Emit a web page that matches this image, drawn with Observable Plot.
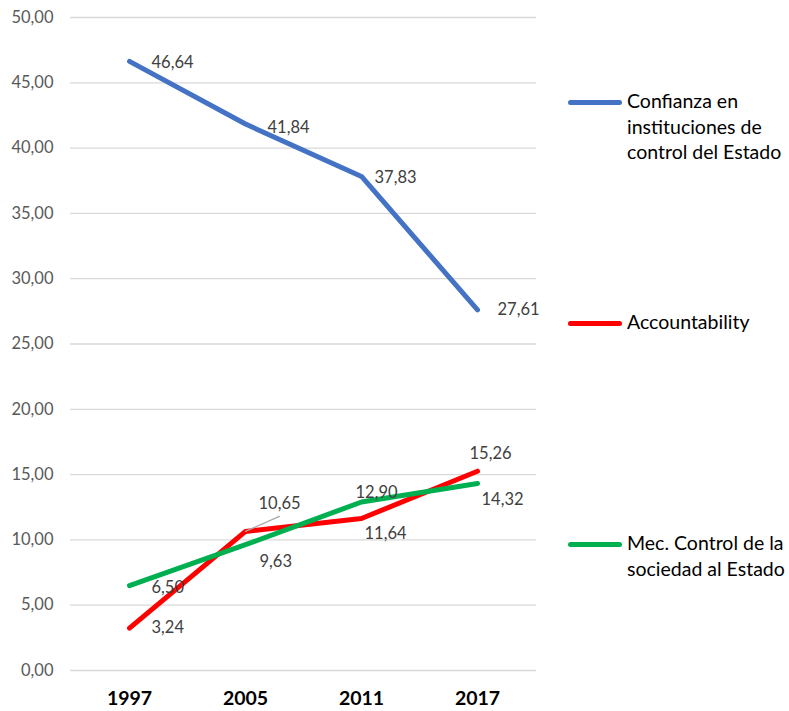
<!DOCTYPE html>
<html>
<head>
<meta charset="utf-8">
<script src="https://cdn.jsdelivr.net/npm/d3@7"></script>
<script src="https://cdn.jsdelivr.net/npm/@observablehq/plot@0.6"></script>
<style>
  body { margin: 0; background: #fff; }
  #wrap { position: relative; width: 789px; height: 711px; font-family: Lato, "Open Sans", sans-serif; }
  .leg { position: absolute; left: 568px; display: flex; align-items: flex-start; }
  .leg .sw { width: 54px; height: 5px; border-radius: 3px; margin-top: 12px; margin-right: 5px; flex: none; }
  .leg .tx { font-size: 19.5px; line-height: 25.5px; color: #000; white-space: nowrap; }
</style>
</head>
<body>
<div id="wrap"></div>
<script>
const years = ["1997", "2005", "2011", "2017"];
const seriesNames = [
  "Confianza en instituciones de control del Estado",
  "Accountability",
  "Mec. Control de la sociedad al Estado"
];
const confianza = [46.64, 41.84, 37.83, 27.61];
const accountability = [3.24, 10.65, 11.64, 15.26];
const mecControl = [6.50, 9.63, 12.90, 14.32];
const yTicks = [0, 5, 10, 15, 20, 25, 30, 35, 40, 45, 50];
const colors = ["#4472C4", "#FF0000", "#00B050"];

const seriesValues = [confianza, accountability, mecControl];
const rows = [];
seriesValues.forEach((vals, s) => vals.forEach((v, i) => rows.push({series: seriesNames[s], s, i, year: years[i], value: v})));

// label offsets (pixels) per series / year, imitating the spreadsheet's data-label placement
const labelOffsets = [
  [[22, 1], [22, 4], [13, 1], [20, 0]],
  [[22, 0], [13, -28], [3, 15], [-8, -17]],
  [[22, 2], [14, 17], [-6, -9], [4, 16]]
];
const fmt = v => v.toFixed(2).replace(".", ",");

const labelMarks = rows.map(r => Plot.text([r], {
  x: "year", y: "value", text: d => fmt(d.value),
  dx: labelOffsets[r.s][r.i][0], dy: labelOffsets[r.s][r.i][1],
  textAnchor: "start", fontSize: 16.5, fill: "#404040"
}));

const leader = Plot.vector(rows.filter(r => r.s === 1 && r.i === 1), {
  x: "year", y: "value", length: 37, rotate: 66, anchor: "start",
  stroke: "#a6a6a6", strokeWidth: 1.3,
  shape: { draw(context, l) { context.moveTo(0, 0); context.lineTo(0, -l); } }
});

const chart = Plot.plot({
  width: 789,
  height: 711,
  marginLeft: 70,
  marginRight: 253,
  marginTop: 17,
  marginBottom: 41,
  style: { fontFamily: "Lato, 'Open Sans', sans-serif", background: "#fff" },
  x: { type: "point", domain: years, padding: 0.5, label: null },
  y: { domain: [0, 50], label: null },
  color: { domain: seriesNames, range: colors },
  marks: [
    Plot.gridY(yTicks, { stroke: "#d9d9d9", strokeOpacity: 1, strokeWidth: 1.3 }),
    Plot.axisY(yTicks, { tickSize: 0, tickPadding: 17, fontSize: 16.5, color: "#595959", tickFormat: fmt, label: null }),
    Plot.axisX({ tickSize: 0, tickPadding: 21, fontSize: 19.5, fontWeight: "bold", color: "#000", label: null }),
    Plot.line(rows, { x: "year", y: "value", z: "series", stroke: "series", strokeWidth: 5, strokeLinecap: "round", strokeLinejoin: "round" }),
    leader,
    ...labelMarks
  ]
});
const wrap = document.getElementById("wrap");
wrap.appendChild(chart);

const legendTexts = [
  ["Confianza en", "instituciones de", "control del Estado"],
  ["Accountability"],
  ["Mec. Control de la", "sociedad al Estado"]
];
const legendTops = [88, 309, 530];
legendTexts.forEach((lines, k) => {
  const d = document.createElement("div");
  d.className = "leg";
  d.style.top = legendTops[k] + "px";
  const sw = document.createElement("div");
  sw.className = "sw";
  sw.style.background = colors[k];
  const tx = document.createElement("div");
  tx.className = "tx";
  tx.innerHTML = lines.join("<br>");
  d.appendChild(sw); d.appendChild(tx);
  wrap.appendChild(d);
});
</script>
</body>
</html>
